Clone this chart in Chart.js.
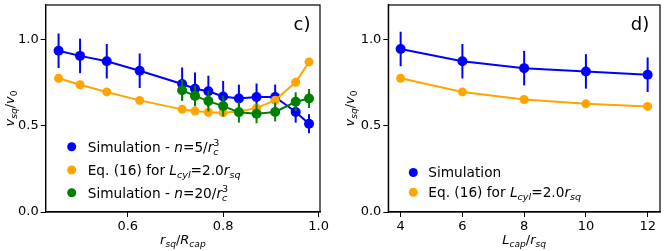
<!DOCTYPE html>
<html>
<head>
<meta charset="utf-8">
<script src="https://cdn.jsdelivr.net/npm/chart.js@4.4.1/dist/chart.umd.min.js"></script>
<style>
  html, body { margin: 0; padding: 0; background: #fff; }
  #wrap { position: relative; width: 665px; height: 251px; }
  #c1 { position: absolute; left: 0; top: 0; }
  #c2 { position: absolute; left: 330px; top: 0; }
</style>
</head>
<body>
<div id="wrap">
  <canvas id="c1" width="330" height="251"></canvas>
  <canvas id="c2" width="335" height="251"></canvas>
</div>
<script>
// panel c) : v_sq/v_0 vs r_sq/R_cap
const rRatio = [0.455, 0.5, 0.556, 0.625, 0.714, 0.741, 0.769, 0.8, 0.833, 0.870, 0.909, 0.952, 0.980];
const simN5 = [0.935, 0.905, 0.874, 0.819, 0.742, 0.715, 0.700, 0.670, 0.658, 0.667, 0.667, 0.580, 0.512];
const simN5Err = [0.1, 0.1, 0.1, 0.1, 0.096, 0.094, 0.09, 0.09, 0.08, 0.078, 0.072, 0.062, 0.055];
const eq16Left = [0.775, 0.738, 0.696, 0.647, 0.595, 0.585, 0.578, 0.576, 0.582, 0.602, 0.648, 0.752, 0.870];
const rRatioN20 = [0.714, 0.741, 0.769, 0.8, 0.833, 0.870, 0.909, 0.952, 0.980];
const simN20 = [0.706, 0.673, 0.643, 0.614, 0.578, 0.570, 0.580, 0.639, 0.658];
const simN20Err = [0.06, 0.06, 0.06, 0.06, 0.06, 0.055, 0.055, 0.055, 0.055];

// panel d) : v_sq/v_0 vs L_cap/r_sq
const lCap = [4, 6, 8, 10, 12];
const simLcap = [0.945, 0.874, 0.834, 0.815, 0.796];
const simLcapErr = [0.1, 0.1, 0.1, 0.1, 0.1];
const eq16Right = [0.775, 0.696, 0.652, 0.627, 0.612];

const yTicks = [0, 0.5, 1.0];
const xTicksLeft = [0.6, 0.8, 1.0];
const xTicksRight = [4, 6, 8, 10, 12];

const BLUE = '#0000ff', ORANGE = '#ffa500', GREEN = '#008000';
const FONT = "'DejaVu Sans', sans-serif";

function pts(xs, ys) { return xs.map((x, i) => ({ x: x, y: ys[i] })); }

// rich text: parts {t, i: italic, s: 'b' sub | 'p' sup, k: keep x (stack)}
function partFont(p, size) {
  const sz = p.s ? size * 0.7 : size;
  return (p.i ? 'italic ' : '') + sz + 'px ' + FONT;
}
function richWidth(ctx, parts, size) {
  let w = 0, maxw = 0;
  parts.forEach(p => {
    ctx.font = partFont(p, size);
    const pw = ctx.measureText(p.t).width;
    maxw = Math.max(maxw, w + pw);
    if (!p.k) w += pw;
  });
  return Math.max(w, maxw);
}
function drawRich(ctx, parts, x, y, size, align) {
  let cx = x;
  if (align === 'center') cx = x - richWidth(ctx, parts, size) / 2;
  ctx.textBaseline = 'alphabetic';
  ctx.textAlign = 'left';
  parts.forEach(p => {
    ctx.font = partFont(p, size);
    let dy = 0;
    if (p.s === 'b') dy = size * 0.22;
    if (p.s === 'p') dy = -size * 0.42;
    ctx.fillText(p.t, cx, y + dy);
    if (!p.k) cx += ctx.measureText(p.t).width;
  });
}

const yTitle = [{ t: 'v', i: 1 }, { t: 'sq', i: 1, s: 'b' }, { t: '/' }, { t: 'v', i: 1 }, { t: '0', s: 'b' }];
const xTitleLeft = [{ t: 'r', i: 1 }, { t: 'sq', i: 1, s: 'b' }, { t: '/' }, { t: 'R', i: 1 }, { t: 'cap', i: 1, s: 'b' }];
const xTitleRight = [{ t: 'L', i: 1 }, { t: 'cap', i: 1, s: 'b' }, { t: '/' }, { t: 'r', i: 1 }, { t: 'sq', i: 1, s: 'b' }];
const labN5 = [{ t: 'Simulation - ' }, { t: 'n', i: 1 }, { t: '=5/' }, { t: 'r', i: 1 }, { t: 'c', i: 1, s: 'b', k: 1 }, { t: '3', s: 'p' }];
const labN20 = [{ t: 'Simulation - ' }, { t: 'n', i: 1 }, { t: '=20/' }, { t: 'r', i: 1 }, { t: 'c', i: 1, s: 'b', k: 1 }, { t: '3', s: 'p' }];
const labEq = [{ t: 'Eq. (16) for ' }, { t: 'L', i: 1 }, { t: 'cyl', i: 1, s: 'b' }, { t: '=2.0' }, { t: 'r', i: 1 }, { t: 'sq', i: 1, s: 'b' }];
const labSim = [{ t: 'Simulation' }];

const errorBars = {
  id: 'errorBars',
  beforeDatasetDraw(chart, args) {
    const ds = chart.data.datasets[args.index];
    if (!ds.err) return;
    const ctx = chart.ctx, ys = chart.scales.y;
    ctx.save();
    ctx.strokeStyle = ds.borderColor;
    ctx.lineWidth = 2;
    args.meta.data.forEach((el, i) => {
      const v = ds.data[i].y, e = ds.err[i];
      ctx.beginPath();
      ctx.moveTo(el.x, ys.getPixelForValue(v - e));
      ctx.lineTo(el.x, ys.getPixelForValue(v + e));
      ctx.stroke();
    });
    ctx.restore();
  }
};

const decor = {
  id: 'decor',
  afterDatasetsDraw(chart, args, o) {
    const ctx = chart.ctx, a = chart.chartArea;
    ctx.save();
    ctx.strokeStyle = '#000';
    ctx.lineWidth = 1.2;
    ctx.strokeRect(a.left, a.top, a.right - a.left, a.bottom - a.top);
    ctx.fillStyle = '#000';
    // panel label
    ctx.font = '18px ' + FONT;
    ctx.textAlign = 'center';
    ctx.textBaseline = 'middle';
    ctx.fillText(o.panel, o.panelX, 25);
    // axis titles
    drawRich(ctx, o.xTitle, (a.left + a.right) / 2, 244, 13, 'center');
    ctx.save();
    ctx.translate(o.yTitleX, (a.top + a.bottom) / 2);
    ctx.rotate(-Math.PI / 2);
    drawRich(ctx, yTitle, 0, 0, 13, 'center');
    ctx.restore();
    // legend
    o.items.forEach((it, i) => {
      const y = o.rows[i];
      ctx.beginPath();
      ctx.arc(o.markX, y, 4.5, 0, Math.PI * 2);
      ctx.fillStyle = it.color;
      ctx.fill();
      ctx.fillStyle = '#000';
      drawRich(ctx, it.parts, o.textX, y + 4.9, 13.7, 'left');
    });
    ctx.restore();
  }
};

function noPad(s) {
  s.paddingTop = 0; s.paddingBottom = 0; s.paddingLeft = 0; s.paddingRight = 0;
}

function axis(min, max, ticks, fmt, fit) {
  return {
    type: 'linear', min: min, max: max,
    afterBuildTicks: s => { s.ticks = ticks.map(v => ({ value: v })); },
    afterFit: s => { fit(s); noPad(s); },
    ticks: { callback: fmt, color: '#000', font: { family: FONT, size: 13 }, padding: 2, maxRotation: 0, autoSkip: false },
    grid: { drawOnChartArea: false, drawTicks: true, tickLength: 5, color: '#000', lineWidth: 1 },
    border: { display: true, color: '#000', width: 1.2 }
  };
}

function series(data, color, radius, order, err) {
  return {
    data: data, borderColor: color, backgroundColor: color,
    borderWidth: 2, pointRadius: radius, pointBorderWidth: 0,
    tension: 0, order: order, err: err
  };
}

function makeChart(id, datasets, xMin, xMax, xTicks, xFmt, yWidth, padRight, deco) {
  return new Chart(document.getElementById(id), {
    type: 'line',
    data: { datasets: datasets },
    options: {
      responsive: false, animation: false,
      layout: { padding: { top: 3, right: padRight, left: 0, bottom: 0 } },
      scales: {
        x: axis(xMin, xMax, xTicks, xFmt, s => { s.height = 39; }),
        y: axis(0, 1.2, yTicks, v => v.toFixed(1), s => { s.width = yWidth; })
      },
      plugins: { legend: { display: false }, tooltip: { enabled: false }, decor: deco }
    },
    plugins: [errorBars, decor]
  });
}

makeChart('c1', [
  series(pts(rRatio, simN5), BLUE, 5, 3, simN5Err),
  series(pts(rRatio, eq16Left), ORANGE, 4.5, 2),
  series(pts(rRatioN20, simN20), GREEN, 5, 1, simN20Err)
], 0.428, 1.003, xTicksLeft, v => v.toFixed(1), 45.7, 10, {
  panel: 'c)', panelX: 302, yTitleX: 14, xTitle: xTitleLeft,
  markX: 71.7, textX: 87.7, rows: [146.7, 170, 192.7],
  items: [{ color: BLUE, parts: labN5 }, { color: ORANGE, parts: labEq }, { color: GREEN, parts: labN20 }]
});

makeChart('c2', [
  series(pts(lCap, simLcap), BLUE, 5, 2, simLcapErr),
  series(pts(lCap, eq16Right), ORANGE, 4.5, 1)
], 3.6, 12.4, xTicksRight, v => String(v), 58.3, 5, {
  panel: 'd)', panelX: 310, yTitleX: 24, xTitle: xTitleRight,
  markX: 83.3, textX: 98.3, rows: [172.5, 192.3],
  items: [{ color: BLUE, parts: labSim }, { color: ORANGE, parts: labEq }]
});
</script>
</body>
</html>
